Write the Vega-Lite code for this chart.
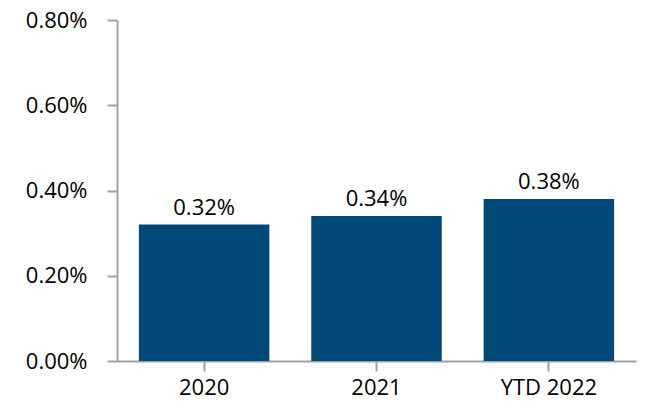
{
  "$schema": "https://vega.github.io/schema/vega-lite/v6.json",
  "autosize": "none",
  "width": 519,
  "height": 341,
  "padding": {"left": 117, "top": 20, "right": 20, "bottom": 59},
  "background": "white",
  "config": {
    "view": {"stroke": null},
    "font": "Open Sans",
    "axis": {"grid": false, "domainColor": "#a0a0a0", "tickColor": "#a0a0a0", "domainWidth": 2, "tickWidth": 2, "tickSize": 10, "labelColor": "#000000", "labelFont": "Open Sans", "labelFontSize": 22, "titleFontSize": 0}
  },
  "data": {"values": [
    {"period": "2020", "rate": 0.0032, "label": "0.32%"},
    {"period": "2021", "rate": 0.0034, "label": "0.34%"},
    {"period": "YTD 2022", "rate": 0.0038, "label": "0.38%"}
  ]},
  "encoding": {
    "x": {"field": "period", "type": "nominal", "sort": null, "title": null,
      "scale": {"paddingInner": 0.243, "paddingOuter": 0.127},
      "axis": {"labelAngle": 0, "labelPadding": 6}},
    "y": {"field": "rate", "type": "quantitative", "title": null,
      "scale": {"domain": [0, 0.008], "nice": false},
      "axis": {"values": [0, 0.002, 0.004, 0.006, 0.008], "format": ".2%", "labelPadding": 20}}
  },
  "layer": [
    {"mark": {"type": "bar", "color": "#004878"}},
    {"mark": {"type": "text", "baseline": "alphabetic", "dy": -10, "fontSize": 22, "font": "Open Sans", "color": "#000000"},
      "encoding": {"text": {"field": "label"}}}
  ]
}
